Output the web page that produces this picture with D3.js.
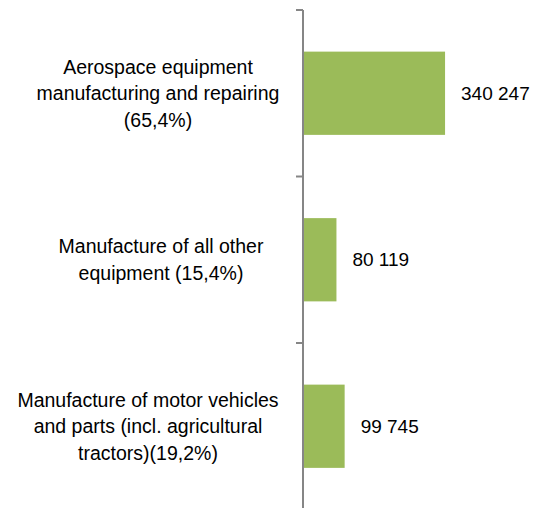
<!DOCTYPE html>
<html>
<head>
<meta charset="utf-8">
<script src="https://cdn.jsdelivr.net/npm/d3@7"></script>
<style>
  html, body { margin: 0; padding: 0; background: #fff; }
  svg { display: block; }
  text { font-family: "Liberation Sans", Arial, sans-serif; fill: #000; }
</style>
</head>
<body>
<svg id="chart" width="535" height="508"></svg>
<script>
// Data (top to bottom as displayed)
const categories = [
  "Aerospace equipment manufacturing and repairing (65,4%)",
  "Manufacture of all other equipment (15,4%)",
  "Manufacture of motor vehicles and parts (incl. agricultural tractors)(19,2%)"
];
const categoryLines = [
  ["Aerospace equipment", "manufacturing and repairing", "(65,4%)"],
  ["Manufacture of all other", "equipment (15,4%)"],
  ["Manufacture of motor vehicles", "and parts (incl. agricultural", "tractors)(19,2%)"]
];
const values = [340247, 80119, 99745];
const valueLabels = ["340 247", "80 119", "99 745"];

// Layout
const axisX = 303, plotRight = 470, plotTop = 10, plotBottom = 509.5;
const labelCenters = [158, 161, 148];
const lineHeight = 26.7;
const labelFontSize = 19.5;
const valueFontSize = 19;
const barColor = "#9BBB59";
const axisColor = "#868686";

const svg = d3.select("#chart");

const x = d3.scaleLinear().domain([0, 400000]).range([axisX, plotRight]);
const y = d3.scaleBand().domain(categories).range([plotTop, plotBottom])
  .paddingInner(0.5).paddingOuter(0.25);

// Bars
svg.selectAll("rect.bar").data(values).join("rect")
  .attr("class", "bar")
  .attr("x", x(0))
  .attr("y", (d, i) => y(categories[i]))
  .attr("width", d => x(d) - x(0))
  .attr("height", y.bandwidth())
  .attr("fill", barColor);

// Axis line
svg.append("line")
  .attr("x1", axisX).attr("x2", axisX)
  .attr("y1", plotTop).attr("y2", plotBottom)
  .attr("stroke", axisColor).attr("stroke-width", 2);

// Tick marks at category boundaries
const boundaries = categories.map(c => y(c) - y.step() * y.paddingInner() / 2)
  .concat([y(categories[categories.length - 1]) + y.bandwidth() + y.step() * y.paddingInner() / 2]);
svg.selectAll("line.tick").data(boundaries).join("line")
  .attr("class", "tick")
  .attr("x1", axisX - 7).attr("x2", axisX)
  .attr("y1", d => d).attr("y2", d => d)
  .attr("stroke", axisColor).attr("stroke-width", 2);

// Category labels
categories.forEach((c, i) => {
  const lines = categoryLines[i];
  const cy = y(c) + y.bandwidth() / 2;
  const t = svg.append("text")
    .attr("text-anchor", "middle")
    .attr("font-size", labelFontSize)
    .attr("dominant-baseline", "central");
  lines.forEach((ln, j) => {
    t.append("tspan")
      .attr("x", labelCenters[i])
      .attr("y", cy + (j - (lines.length - 1) / 2) * lineHeight)
      .text(ln);
  });
});

// Value labels
svg.selectAll("text.val").data(values).join("text")
  .attr("class", "val")
  .attr("x", d => x(d) + 16)
  .attr("y", (d, i) => y(categories[i]) + y.bandwidth() / 2)
  .attr("dominant-baseline", "central")
  .attr("font-size", valueFontSize)
  .text((d, i) => valueLabels[i]);
</script>
</body>
</html>
